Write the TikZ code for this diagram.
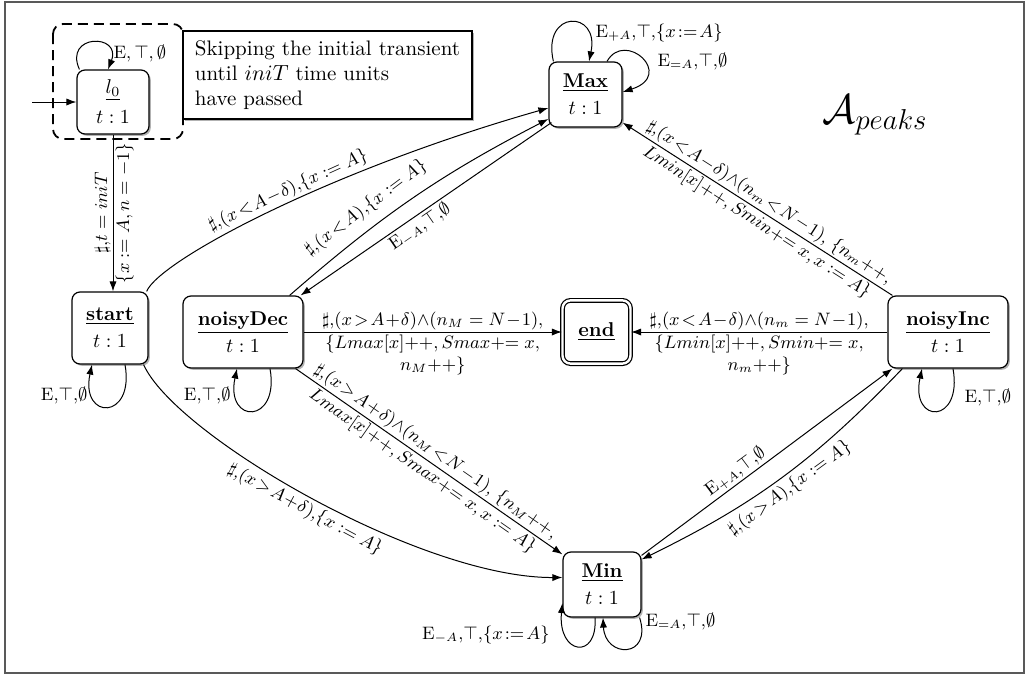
\documentclass[tikz,border=0pt]{standalone}
\usetikzlibrary{arrows.meta,shadows}
\begin{document}
\begin{tikzpicture}[x=0.5pt,y=-0.5pt,
  state/.style={draw, rounded corners=4pt, fill=white, line width=0.6pt, align=center, inner sep=1pt,
     font=\fontsize{10}{12}\selectfont,
     drop shadow={shadow xshift=0.9pt, shadow yshift=-0.9pt, opacity=0.3, fill=black}},
  notebox/.style={draw, fill=white, line width=0.6pt, align=left, inner sep=3pt,
     minimum width=144.5pt, minimum height=44pt, font=\fontsize{10.5}{12.5}\selectfont,
     drop shadow={shadow xshift=0.9pt, shadow yshift=-0.9pt, opacity=0.3, fill=black}},
  tr/.style={-{Latex[length=5pt,width=3.6pt]}, line width=0.5pt},
  lbl/.style={font=\fontsize{9}{11}\selectfont, inner sep=1pt},
  framebox/.style={draw=black!65, line width=0.8pt},
  initbox/.style={dash pattern=on 5pt off 3pt, line width=0.9pt, rounded corners=5pt}
]
\useasboundingbox (0,0) rectangle (1030,675);
\draw[framebox] (5,2) rectangle (1024,673);

% nodes
\node[state, minimum width=36pt, minimum height=32pt] (l0) at (113,102) {$\underline{l_0}$\\[3pt]$t:1$};
\node[notebox] (note) at (327.5,75) {Skipping the initial transient\\until $iniT$ time units\\have passed};
\draw[initbox] (53,24) rectangle (183,139);
\node[state, minimum width=36.5pt, minimum height=32.5pt] (Max) at (585.5,94.5) {\underline{\textbf{Max}}\\[1.5pt]$t:1$};
\node[state, minimum width=38pt, minimum height=36pt] (start) at (110,328) {\underline{\textbf{start}}\\[1.5pt]$t:1$};
\node[state, minimum width=60pt, minimum height=36pt] (noisyDec) at (243,332) {\underline{\textbf{noisyDec}}\\[1.5pt]$t:1$};
\node[state, double, double distance=1.2pt, minimum width=34pt, minimum height=31.6pt] (end) at (596.5,332) {\underline{\textbf{end}}};
\node[state, minimum width=60pt, minimum height=36pt] (noisyInc) at (948,332) {\underline{\textbf{noisyInc}}\\[1.5pt]$t:1$};
\node[state, minimum width=39pt, minimum height=32.5pt] (Min) at (602,584.5) {\underline{\textbf{Min}}\\[1.5pt]$t:1$};
\node[anchor=base, font=\huge] (title) at (875,123) {$\mathcal{A}_{peaks}$};

\coordinate (init) at (32,102);

% initial and l0
\draw[tr] (init) -- (l0.west);
\draw[tr] ([xshift=1.5pt]l0.north west) .. controls +(-16,-36) and +(14,-36) .. ([xshift=-2.5pt]l0.north)
  node[lbl, anchor=west] at (111,53) {$\mathrm{E}, \top, \emptyset$};
\draw[tr] (l0.south) -- (l0.south |- start.north)
  node[lbl, midway, rotate=90, anchor=south] {$\sharp$,$t = iniT$}
  node[lbl, midway, rotate=90, anchor=north] {$\{x := A, n = -1\}$};

% start
\draw[tr] (start.45) .. controls (160,260) and (330,170) .. (Max.200)
  node[lbl, sloped, pos=0.55, above] {$\sharp$,$(x\!<\!A\!-\!\delta)$,$\{x := A\}$};
\draw[tr] ([xshift=-2.5pt]start.south east) .. controls (175,435) and (420,578) .. ([yshift=3.5pt]Min.west)
  node[lbl, sloped, pos=0.5, below=1pt] {$\sharp$,$(x\!>\!A\!+\!\delta)$,$\{x := A\}$};
\draw[tr] ([xshift=7.5pt]start.south) .. controls +(10,56) and +(-12,56) .. ([xshift=-9pt]start.south)
  node[lbl, anchor=east] at (90,395) {E,$\top$,$\emptyset$};

% noisyDec
\draw[tr] ([xshift=-7pt]noisyDec.north east) .. controls (382,215) and (440,175) .. ([yshift=-12.25pt]Max.west)
  node[lbl, sloped, pos=0.35, above=4pt] {$\sharp$,$(x\!<\!A)$,$\{x := A\}$};
\draw[tr] ([xshift=1.5pt,yshift=2.5pt]Max.south west) -- ([xshift=-1.5pt]noisyDec.north east)
  node[lbl, sloped, pos=0.55, below] {E$_{-A}$,$\top$,$\emptyset$};
\draw[tr] (noisyDec) -- (end)
  node[lbl, midway, above] {$\sharp$,$(x\!>\!A\!+\!\delta){\wedge}(n_M = N\!-\!1)$,}
  node[lbl, midway, below, align=center] {$\{Lmax[x]{+}{+}, Smax{+}{=}\;x,$\\$n_M{+}{+}\}$};
\draw[tr] ([xshift=-4pt]noisyDec.south east) -- ([yshift=-1.5pt]Min.north west)
  node[lbl, sloped, midway, above] {$\sharp$,$(x\!>\!A\!+\!\delta){\wedge}(n_M\!<\!N\!-\!1)$, $\{n_M{+}{+},$}
  node[lbl, sloped, midway, below] {$Lmax[x]{+}{+}, Smax{+}{=}\;x, x := A\}$};
\draw[tr] ([xshift=13.5pt]noisyDec.south) .. controls +(10,56) and +(-12,56) .. ([xshift=-3pt]noisyDec.south)
  node[lbl, anchor=east] at (233,395) {E,$\top$,$\emptyset$};

% noisyInc
\draw[tr] (noisyInc) -- (end)
  node[lbl, midway, above] {$\sharp$,$(x\!<\!A\!-\!\delta){\wedge}(n_m = N\!-\!1)$,}
  node[lbl, midway, below, align=center] {$\{Lmin[x]{+}{+}, Smin{+}{=}\;x,$\\$n_m{+}{+}\}$};
\draw[tr] ([xshift=2.5pt]noisyInc.north west) -- ([yshift=2.5pt]Max.south east)
  node[lbl, sloped, pos=0.48, above] {$\sharp$,$(x\!<\!A\!-\!\delta){\wedge}(n_m\!<\!N\!-\!1)$, $\{n_m{+}{+},$}
  node[lbl, sloped, pos=0.48, below] {$Lmin[x]{+}{+}, Smin{+}{=}\;x, x := A\}$};
\draw[tr] ([xshift=2.5pt]noisyInc.south) .. controls +(10,56) and +(-12,56) .. ([xshift=-13pt]noisyInc.south)
  node[lbl, anchor=west] at (962,397) {E,$\top$,$\emptyset$};
\draw[tr] ([xshift=7.5pt]noisyInc.south west) .. controls (815,460) and (755,504) .. ([yshift=-4pt]Min.north east)
  node[lbl, sloped, pos=0.5, below=1pt] {$\sharp$,$(x\!>\!A)$,$\{x := A\}$};

% Min
\draw[tr] ([yshift=-2pt]Min.north east) -- ([xshift=2.5pt]noisyInc.south west)
  node[lbl, sloped, pos=0.4, above] {E$_{+A}$,$\top$,$\emptyset$};
\draw[tr] ([xshift=-3.5pt]Min.south) .. controls +(3,43) and +(-5,52) .. ([yshift=-9.25pt]Min.west)
  node[lbl, anchor=east] at (552,635) {E$_{-A}$,$\top$,$\{x\!:=\!A\}$};
\draw[tr] ([xshift=-1pt]Min.south east) .. controls +(13,41) and +(2,41) .. ([xshift=0.5pt]Min.south)
  node[lbl, anchor=west] at (643,621) {E$_{=A}$,$\top$,$\emptyset$};

% Max loops
\draw[tr] ([xshift=2.5pt]Max.north west) .. controls +(-12,-52) and +(11,-52) .. ([xshift=1.75pt]Max.north)
  node[lbl, anchor=west] at (593,33) {E$_{+A}$,$\top$,$\{x\!:=\!A\}$};
\draw[tr] ([xshift=10.75pt]Max.north) .. controls +(18,-32) and +(53,-17) .. ([yshift=1.25pt]Max.east)
  node[lbl, anchor=west] at (655,61) {E$_{=A}$,$\top$,$\emptyset$};
\end{tikzpicture}
\end{document}
